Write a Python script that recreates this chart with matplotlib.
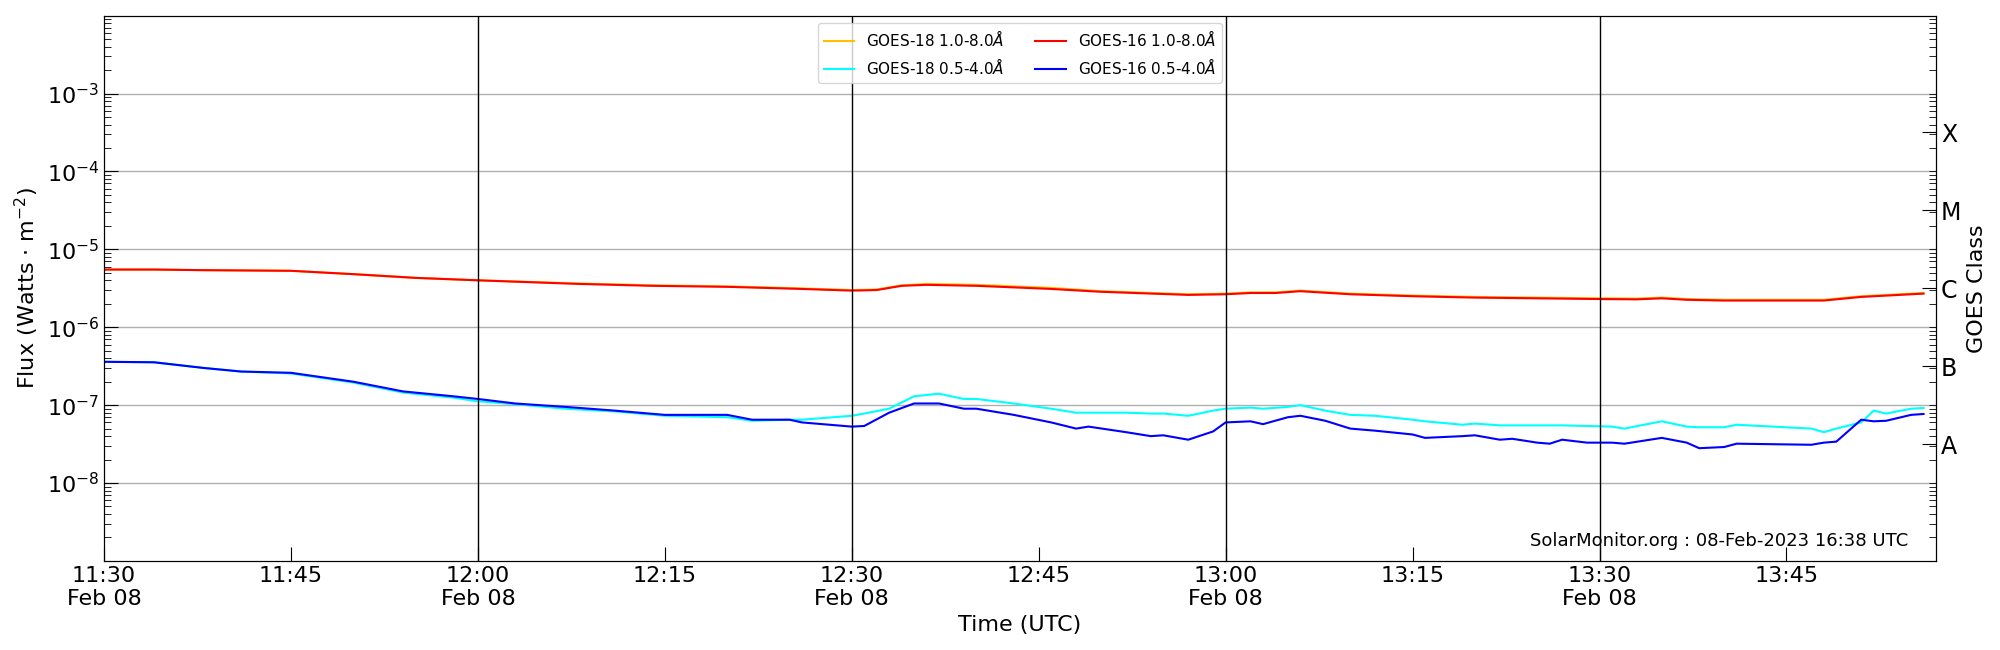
import numpy as np
import matplotlib.pyplot as plt
import matplotlib.dates as mdates
from matplotlib.ticker import LogLocator, NullFormatter, FixedLocator, FixedFormatter
from datetime import datetime

# GOES X-ray flux, 2023-02-08 (UTC)
t_long = ['11:30', '11:34', '11:38', '11:45', '11:50', '11:55', '12:00', '12:08', '12:14', '12:20', '12:26',
          '12:30', '12:32', '12:34', '12:36', '12:40', '12:46', '12:50', '12:57', '13:00', '13:02', '13:04',
          '13:06', '13:10', '13:15', '13:20', '13:25', '13:30', '13:33', '13:35', '13:37', '13:40', '13:48',
          '13:51', '13:56']
g16_long = [5.5e-6, 5.5e-6, 5.4e-6, 5.3e-6, 4.8e-6, 4.3e-6, 4.0e-6, 3.6e-6, 3.4e-6, 3.3e-6, 3.1e-6,
            2.95e-6, 3.0e-6, 3.4e-6, 3.5e-6, 3.4e-6, 3.1e-6, 2.85e-6, 2.6e-6, 2.65e-6, 2.75e-6, 2.75e-6,
            2.9e-6, 2.65e-6, 2.5e-6, 2.4e-6, 2.35e-6, 2.3e-6, 2.28e-6, 2.35e-6, 2.25e-6, 2.2e-6, 2.2e-6,
            2.45e-6, 2.7e-6]
g18_long = [5.5e-6, 5.5e-6, 5.4e-6, 5.3e-6, 4.8e-6, 4.3e-6, 4.0e-6, 3.65e-6, 3.45e-6, 3.35e-6, 3.15e-6,
            3.0e-6, 3.05e-6, 3.45e-6, 3.6e-6, 3.5e-6, 3.2e-6, 2.9e-6, 2.65e-6, 2.7e-6, 2.8e-6, 2.8e-6,
            2.95e-6, 2.7e-6, 2.55e-6, 2.45e-6, 2.4e-6, 2.35e-6, 2.33e-6, 2.4e-6, 2.3e-6, 2.25e-6, 2.25e-6,
            2.5e-6, 2.75e-6]

t_short = ['11:30', '11:34', '11:38', '11:41', '11:45', '11:50', '11:54', '11:58', '12:00', '12:03', '12:07',
           '12:11', '12:15', '12:20', '12:22', '12:25', '12:26', '12:30', '12:31', '12:33', '12:35', '12:37',
           '12:39', '12:40', '12:43', '12:46', '12:48', '12:49', '12:52', '12:54', '12:55', '12:57', '12:59',
           '13:00', '13:02', '13:03', '13:05', '13:06', '13:08', '13:10', '13:12', '13:15', '13:16', '13:19',
           '13:20', '13:22', '13:23', '13:25', '13:26', '13:27', '13:29', '13:31', '13:32', '13:35', '13:37',
           '13:38', '13:40', '13:41', '13:47', '13:48', '13:49', '13:51', '13:52', '13:53', '13:55', '13:56']
g16_short = [3.6e-7, 3.55e-7, 3.0e-7, 2.7e-7, 2.6e-7, 2.0e-7, 1.5e-7, 1.3e-7, 1.2e-7, 1.05e-7, 9.5e-8,
             8.5e-8, 7.5e-8, 7.5e-8, 6.5e-8, 6.5e-8, 6.0e-8, 5.3e-8, 5.4e-8, 8.0e-8, 1.05e-7, 1.05e-7,
             9.0e-8, 9.0e-8, 7.5e-8, 6.0e-8, 5.0e-8, 5.3e-8, 4.5e-8, 4.0e-8, 4.1e-8, 3.6e-8, 4.6e-8,
             6.0e-8, 6.2e-8, 5.7e-8, 7.0e-8, 7.3e-8, 6.3e-8, 5.0e-8, 4.7e-8, 4.2e-8, 3.8e-8, 4.0e-8,
             4.1e-8, 3.6e-8, 3.7e-8, 3.3e-8, 3.2e-8, 3.6e-8, 3.3e-8, 3.3e-8, 3.2e-8, 3.8e-8, 3.3e-8,
             2.8e-8, 2.9e-8, 3.2e-8, 3.1e-8, 3.3e-8, 3.4e-8, 6.5e-8, 6.2e-8, 6.3e-8, 7.5e-8, 7.7e-8]
g18_short = [3.6e-7, 3.55e-7, 3.0e-7, 2.7e-7, 2.55e-7, 1.95e-7, 1.45e-7, 1.25e-7, 1.12e-7, 1.03e-7, 9.0e-8,
             8.3e-8, 7.3e-8, 7.0e-8, 6.3e-8, 6.5e-8, 6.5e-8, 7.3e-8, 7.8e-8, 9.0e-8, 1.3e-7, 1.4e-7,
             1.2e-7, 1.2e-7, 1.05e-7, 9.0e-8, 8.0e-8, 8.0e-8, 8.0e-8, 7.8e-8, 7.8e-8, 7.3e-8, 8.5e-8,
             9.0e-8, 9.3e-8, 9.0e-8, 9.5e-8, 1.0e-7, 8.5e-8, 7.5e-8, 7.3e-8, 6.5e-8, 6.2e-8, 5.6e-8,
             5.8e-8, 5.5e-8, 5.5e-8, 5.5e-8, 5.5e-8, 5.5e-8, 5.4e-8, 5.3e-8, 5.0e-8, 6.2e-8, 5.3e-8,
             5.2e-8, 5.2e-8, 5.6e-8, 5.0e-8, 4.5e-8, 5.0e-8, 6.0e-8, 8.5e-8, 7.8e-8, 9.0e-8, 9.2e-8]


def to_dt(s):
    return datetime.strptime('2023-02-08 ' + s, '%Y-%m-%d %H:%M')


x_long = [to_dt(s) for s in t_long]
x_short = [to_dt(s) for s in t_short]

fig, ax = plt.subplots(figsize=(20, 6.5), dpi=100)
fig.subplots_adjust(left=0.052, right=0.968, top=0.976, bottom=0.137)

ax.plot(x_long, g18_long, color='#ffc000', lw=1.5, label='GOES-18 1.0-8.0$\\AA$')
ax.plot(x_short, g18_short, color='cyan', lw=1.5, label='GOES-18 0.5-4.0$\\AA$')
ax.plot(x_long, g16_long, color='red', lw=1.5, label='GOES-16 1.0-8.0$\\AA$')
ax.plot(x_short, g16_short, color='blue', lw=1.5, label='GOES-16 0.5-4.0$\\AA$')

ax.set_yscale('log')
ax.set_ylim(1e-9, 1e-2)
ax.set_xlim(to_dt('11:30'), to_dt('13:57'))
ax.yaxis.set_major_locator(FixedLocator([1e-8, 1e-7, 1e-6, 1e-5, 1e-4, 1e-3]))
ax.yaxis.set_minor_locator(LogLocator(base=10, subs=np.arange(2, 10), numticks=20))
ax.yaxis.set_minor_formatter(NullFormatter())
ax.grid(axis='y', which='major', color='#b0b0b0', lw=1)

ax.xaxis.set_major_locator(mdates.MinuteLocator(byminute=[0, 15, 30, 45]))


def fmt(x, pos):
    d = mdates.num2date(x)
    if d.minute in (0, 30):
        return d.strftime('%H:%M\n%b %d')
    return d.strftime('%H:%M')


ax.xaxis.set_major_formatter(plt.FuncFormatter(fmt))
for s in ['12:00', '12:30', '13:00', '13:30']:
    ax.axvline(to_dt(s), color='black', lw=1)

ax.tick_params(which='both', direction='in', labelsize=16)
ax.tick_params(which='major', length=10)
ax.tick_params(which='minor', length=5)
ax.set_xlabel('Time (UTC)', fontsize=16)
ax.set_ylabel('Flux (Watts $\\cdot$ m$^{-2}$)', fontsize=16)

ax2 = ax.twinx()
ax2.set_yscale('log')
ax2.set_ylim(1e-9, 1e-2)
ax2.yaxis.set_major_locator(FixedLocator([10**-7.5, 10**-6.5, 10**-5.5, 10**-4.5, 10**-3.5]))
ax2.yaxis.set_major_formatter(FixedFormatter(['A', 'B', 'C', 'M', 'X']))
ax2.yaxis.set_minor_locator(LogLocator(base=10, subs=np.arange(1, 10), numticks=20))
ax2.yaxis.set_minor_formatter(NullFormatter())
ax2.tick_params(which='both', direction='in', labelsize=17)
ax2.tick_params(which='major', length=10)
ax2.tick_params(which='minor', length=5)
ax2.set_ylabel('GOES Class', fontsize=16)

ax.legend(loc='upper center', ncol=2, fontsize=11, bbox_to_anchor=(0.5, 1.0))
ax.text(0.985, 0.02, 'SolarMonitor.org : 08-Feb-2023 16:38 UTC', transform=ax.transAxes,
        ha='right', va='bottom', fontsize=13)

fig.savefig('out.png')
